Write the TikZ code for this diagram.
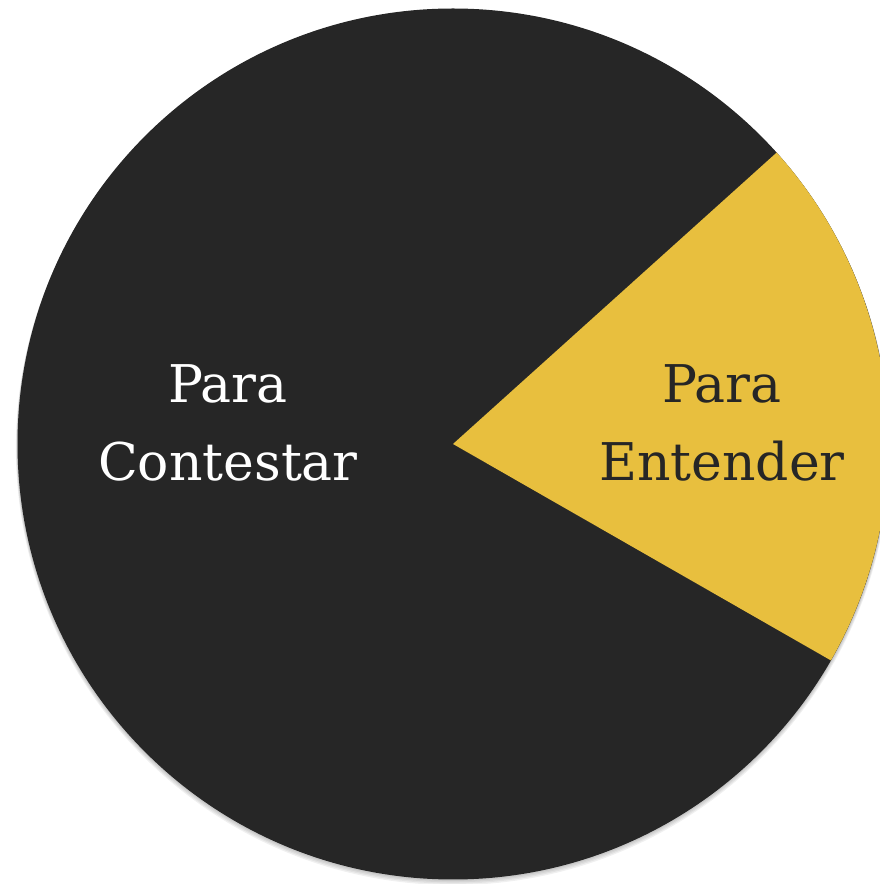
\documentclass[tikz,border=0pt]{standalone}
\usepackage{fontspec}
\setmainfont{DejaVu Serif}
\usetikzlibrary{calc}
\definecolor{piedark}{HTML}{262626}
\definecolor{pieyellow}{HTML}{E8BF3E}

\begin{document}
\begin{tikzpicture}[x=1pt,y=1pt,
  pie label/.style={font=\fontsize{52}{78}\selectfont,align=center,inner sep=0pt}]
  \useasboundingbox (0,0) rectangle (880,884);
  \coordinate (c) at (453,440);
  % soft shadow under the disc
  \foreach \s in {1,...,4}
    \fill[black,opacity=0.06] ($(c)+(0,-\s)$) circle (435.5+0.4*\s);
  \fill[piedark] (c) circle (435.5);
  \fill[pieyellow] (c) -- +(-29.8:435.5) arc (-29.8:42:435.5) -- cycle;
  \node[pie label,text=white,anchor=base] (contestar) at (228,403) {Para\\Contestar};
  \node[pie label,text=piedark,anchor=base] (entender) at (722,403) {Para\\Entender};
\end{tikzpicture}
\end{document}
